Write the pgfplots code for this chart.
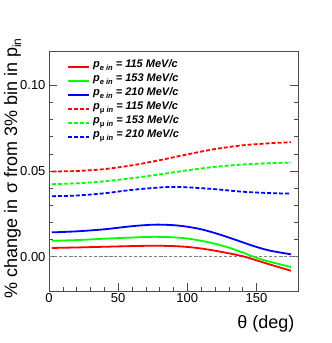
\documentclass[border=0pt]{standalone}
\usepackage{fontspec}
\setmainfont{Liberation Sans}
\usepackage{pgfplots}
\pgfplotsset{compat=1.18}
\definecolor{rred}{RGB}{255,0,0}
\definecolor{rgreen}{RGB}{0,255,0}
\definecolor{rblue}{RGB}{0,0,255}
\newcommand{\sub}[1]{\raisebox{-3pt}{\fontsize{7.5}{7.5}\selectfont #1}}

\pgfplotstableread{
t redE greenE blueE
2   0.0051  0.0093  0.0142
20  0.0054  0.0097  0.0148
40  0.0058  0.0105  0.0160
60  0.0062  0.0112  0.0178
76  0.0064  0.0116  0.0187
90  0.0062  0.0113  0.0184
100 0.0057  0.0106  0.0175
110 0.0048  0.0093  0.0160
120 0.0035  0.0076  0.0138
130 0.0020  0.0053  0.0112
140 0.0003  0.0025  0.0084
150 -0.0021 -0.0006 0.0057
160 -0.0046 -0.0030 0.0035
175 -0.0082 -0.0060 0.0014
}\elec

\pgfplotstableread{
t redM greenM blueM
2   0.0497 0.0423 0.0353
20  0.0500 0.0428 0.0357
40  0.0511 0.0440 0.0370
60  0.0533 0.0458 0.0390
80  0.0563 0.0480 0.0404
90  0.0580 0.0492 0.0407
100 0.0597 0.0504 0.0405
120 0.0628 0.0524 0.0394
140 0.0650 0.0538 0.0379
160 0.0662 0.0546 0.0371
175 0.0668 0.0549 0.0368
}\muon

\begin{document}
\begin{tikzpicture}
\begin{axis}[name=ax,
  scale only axis, width=249pt, height=240pt,
  xmin=0, xmax=180, ymin=-0.02, ymax=0.12,
  axis line style={black!70, line width=0.6pt},
  xtick={0,50,100,150}, minor x tick num=4,
  ytick={0,0.05,0.10}, minor y tick num=4,
  xtick pos=bottom, ytick pos=both,
  tick align=inside,
  major tick length=8pt, minor tick length=4.5pt,
  tick style={black!70, line width=0.5pt},
  tick label style={font=\fontsize{13}{13}\selectfont},
  /pgf/number format/assume math mode=true,
  yticklabel style={/pgf/number format/.cd, fixed, fixed zerofill, precision=2},
  xticklabel style={yshift=1pt},
  xlabel={θ (deg)},
  xlabel style={font=\fontsize{18}{18}\selectfont, at={(axis description cs:1,-0.158)}, anchor=base east},
  ylabel={\% change in σ from 3\% bin in p\raisebox{-4pt}{\fontsize{12}{12}\selectfont in}},
  ylabel style={font=\fontsize{18}{18}\selectfont, at={(axis description cs:-0.1285,1.067)}, anchor=base east},
  legend cell align=left,
  legend style={draw=none, fill=none, at={(axis description cs:0.06,0.972)}, anchor=north west,
    font=\bfseries\itshape\fontsize{11}{11}\selectfont,
    row sep=0pt, nodes={inner sep=0pt, text height=8pt, text depth=6pt},
    /tikz/every odd column/.append style={column sep=3pt}},
  legend image code/.code={\draw[#1, line width=2pt] (0pt,0pt) -- (21pt,0pt);},
  every axis plot/.append style={line width=1.8pt, smooth},
]
\addplot[gray, line width=0.6pt, dash pattern=on 3pt off 2pt, forget plot, smooth=false] coordinates {(0,0) (180,0)};
\addplot[rred] table[x=t, y=redE] {\elec};
\addlegendentry{p\sub{e in} = 115 MeV/c}
\addplot[rgreen] table[x=t, y=greenE] {\elec};
\addlegendentry{p\sub{e in} = 153 MeV/c}
\addplot[rblue] table[x=t, y=blueE] {\elec};
\addlegendentry{p\sub{e in} = 210 MeV/c}
\addplot[rred, dash pattern=on 4pt off 2pt] table[x=t, y=redM] {\muon};
\addlegendentry{p\sub{\upshape μ\itshape{} in} = 115 MeV/c}
\addplot[rgreen, dash pattern=on 4pt off 2pt] table[x=t, y=greenM] {\muon};
\addlegendentry{p\sub{\upshape μ\itshape{} in} = 153 MeV/c}
\addplot[rblue, dash pattern=on 4pt off 2pt] table[x=t, y=blueM] {\muon};
\addlegendentry{p\sub{\upshape μ\itshape{} in} = 210 MeV/c}
\end{axis}
\path ([shift={(-49pt,-52pt)}]ax.south west) rectangle ([shift={(34pt,51pt)}]ax.north east);
\end{tikzpicture}
\end{document}
